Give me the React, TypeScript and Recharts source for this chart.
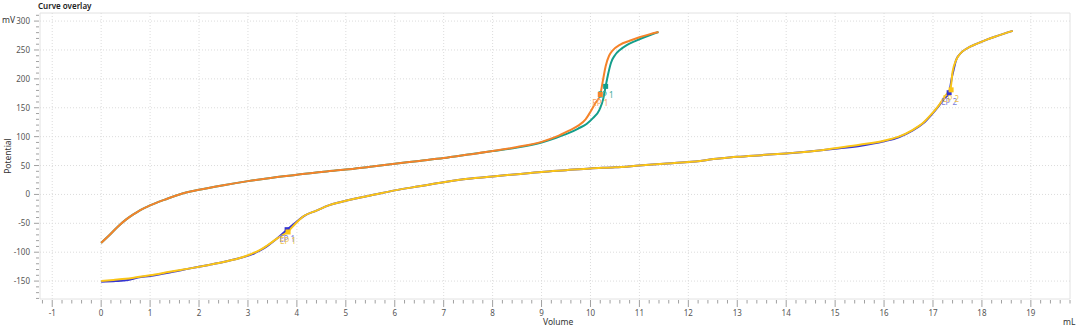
import React from "react";
import {
  ComposedChart,
  Line,
  Scatter,
  XAxis,
  YAxis,
  ReferenceLine,
  ReferenceArea,
} from "recharts";

// curve overlay: two titrations with one EP each, two with two EPs
const run1 = [
  [0, -84], [0.15, -72], [0.35, -55], [0.5, -44], [0.65, -35], [0.8, -27],
  [1.0, -19], [1.3, -9], [1.6, 0], [2.0, 8], [2.5, 16], [3.0, 23], [3.5, 29],
  [4.0, 34], [4.5, 39], [5.0, 43], [5.5, 48], [6.0, 53], [6.5, 58], [7.0, 63],
  [7.5, 69], [8.0, 75], [8.5, 81], [9.0, 90], [9.3, 98], [9.55, 106],
  [9.75, 114], [9.92, 122], [10.05, 132], [10.18, 146], [10.26, 165],
  [10.31, 187], [10.36, 208], [10.42, 228], [10.5, 241], [10.6, 250],
  [10.75, 259], [10.9, 265], [11.1, 272], [11.39, 281],
];
const run2 = [
  [0, -84], [0.15, -72], [0.35, -55], [0.5, -44], [0.65, -35], [0.8, -27],
  [1.0, -19], [1.3, -9], [1.6, 0], [2.0, 8], [2.5, 16], [3.0, 23], [3.5, 29],
  [4.0, 34], [4.5, 39], [5.0, 43], [5.5, 48], [6.0, 53], [6.5, 58], [7.0, 63],
  [7.5, 69], [8.0, 75], [8.5, 82], [9.0, 91], [9.3, 100], [9.55, 110],
  [9.75, 119], [9.9, 130], [10.0, 143], [10.1, 158], [10.2, 173],
  [10.26, 200], [10.31, 222], [10.38, 240], [10.45, 249], [10.6, 259],
  [10.8, 266], [11.0, 272], [11.2, 277], [11.39, 281],
];
const run3 = [
  [0, -151], [0.3, -150], [0.55, -148], [0.75, -144], [1.0, -141],
  [1.4, -135], [1.82, -128], [2.2, -122], [2.5, -117], [2.8, -111],
  [3.04, -105], [3.25, -97], [3.4, -89], [3.6, -76], [3.8, -61], [4.0, -47],
  [4.15, -37], [4.4, -28], [4.65, -19], [4.9, -13], [5.2, -7], [5.5, -2],
  [6.0, 7], [6.5, 14], [7.0, 21], [7.5, 27], [8.0, 31], [8.5, 35], [9.0, 39],
  [9.5, 42], [10.0, 45], [10.5, 47], [11.0, 50], [11.5, 53], [12.0, 56],
  [12.63, 62], [13.0, 65], [13.5, 68], [14.0, 71], [14.67, 76], [15.0, 79],
  [15.5, 84], [16.0, 92], [16.3, 99], [16.57, 110], [16.8, 123],
  [16.98, 139], [17.1, 151], [17.22, 165], [17.33, 176], [17.38, 200],
  [17.42, 215], [17.47, 232], [17.55, 243], [17.7, 253], [17.9, 261],
  [18.1, 268], [18.3, 274], [18.63, 283],
];
const run4 = [
  [0, -150], [0.25, -148], [0.5, -146], [0.75, -143], [1.0, -140],
  [1.4, -134], [1.82, -128], [2.2, -122], [2.5, -117], [2.8, -111],
  [3.04, -104], [3.25, -96], [3.4, -88], [3.6, -76], [3.82, -64], [4.0, -48],
  [4.15, -37], [4.4, -28], [4.65, -19], [4.9, -13], [5.2, -7], [5.5, -2],
  [6.0, 7], [6.5, 14], [7.0, 21], [7.5, 27], [8.0, 31], [8.5, 35], [9.0, 39],
  [9.5, 42], [10.0, 45], [10.5, 47], [11.0, 50], [11.5, 53], [12.0, 56],
  [12.63, 62], [13.0, 65], [13.5, 68], [14.0, 71], [14.67, 76], [15.0, 80],
  [15.5, 86], [16.0, 93], [16.3, 100], [16.57, 111], [16.8, 124],
  [16.98, 140], [17.1, 152], [17.22, 167], [17.3, 176], [17.36, 184],
  [17.4, 212], [17.47, 232], [17.55, 243], [17.7, 253], [17.9, 261],
  [18.1, 268], [18.3, 274], [18.63, 283],
];

// endpoints [volume, potential, label]
const ep1 = [[10.31, 187, "EP 1"]];
const ep2 = [[10.2, 173, "EP 1"]];
const ep3 = [[3.8, -61, "EP 1"], [17.33, 176, "EP 2"]];
const ep4 = [[3.82, -65, "EP 1"], [17.37, 181, "EP 2"]];

const xMajor = [-1, 0, 1, 2, 3, 4, 5, 6, 7, 8, 9, 10, 11, 12, 13, 14, 15, 16, 17, 18, 19];
const yMajor = [-150, -100, -50, 0, 50, 100, 150, 200, 250, 300];

const xTicks: number[] = [];
for (let i = -6; i <= 99; i++) xTicks.push(+(i * 0.2).toFixed(1));
const yTicks: number[] = [];
for (let v = -180; v <= 310; v += 10) yTicks.push(v);

const toPts = (arr: any[]) => arr.map(([x, y]) => ({ x, y }));
const toEp = (arr: any[]) => arr.map(([x, y, label]) => ({ x, y, label }));

const font = "'Noto Sans', 'Open Sans', sans-serif";

const XTick = ({ x, y, payload }: any) => {
  const v = payload.value;
  const major = Math.abs(v - Math.round(v)) < 1e-6;
  return (
    <g>
      <line x1={x} x2={x} y1={y + 1} y2={y + (major ? 8 : 4.5)} stroke="#a0a0a0" />
      {major && (
        <text x={x} y={y + 17} textAnchor="middle" fontSize={8} fill="#555" fontFamily={font}>
          {Math.round(v)}
        </text>
      )}
    </g>
  );
};

const YTick = ({ x, y, payload }: any) => {
  const v = payload.value;
  const major = v % 50 === 0;
  return (
    <g>
      <line x1={x - (major ? 6 : 4)} x2={x - 1} y1={y} y2={y} stroke="#a0a0a0" />
      {major && (
        <text x={x - 10} y={y + 3} textAnchor="end" fontSize={8} fill="#555" fontFamily={font}>
          {v}
        </text>
      )}
    </g>
  );
};

const epShape = (color: string, labelColor: string) => (props: any) => {
  const { cx, cy, payload } = props;
  return (
    <g>
      <rect x={cx - 2.5} y={cy - 2.5} width={5} height={5} fill={color} />
      <text x={cx} y={cy + 12} textAnchor="middle" fontSize={8} fill={labelColor} fontFamily={font}>
        {payload.label}
      </text>
    </g>
  );
};

const txt: React.CSSProperties = {
  position: "absolute",
  fontFamily: font,
  fontSize: 8.5,
  color: "#333",
  whiteSpace: "nowrap",
  lineHeight: 1,
};

export default function App() {
  return (
    <div style={{ position: "absolute", left: 0, top: 0, width: 1080, height: 332, background: "#fff" }}>
      <ComposedChart
        width={1080}
        height={332}
        margin={{ top: 13, right: 10, bottom: 0, left: 0 }}
      >
        <XAxis
          dataKey="x"
          type="number"
          domain={[-1.25, 19.8]}
          ticks={xTicks}
          interval={0}
          allowDataOverflow
          height={33}
          tickSize={0}
          tickMargin={0}
          tickLine={false}
          axisLine={false}
          tick={<XTick />}
        />
        <YAxis
          dataKey="y"
          type="number"
          domain={[-181, 314]}
          ticks={yTicks}
          interval={0}
          allowDataOverflow
          width={40}
          tickSize={0}
          tickMargin={0}
          tickLine={false}
          axisLine={false}
          tick={<YTick />}
        />
        <ReferenceArea x1={-1.25} x2={19.8} y1={-181} y2={314} fill="none" stroke="#e2e2e2" />
        {xMajor.map((v) => (
          <ReferenceLine key={"gx" + v} x={v} stroke="#dcdcdc" strokeDasharray="1 2" />
        ))}
        {yMajor.map((v) => (
          <ReferenceLine key={"gy" + v} y={v} stroke="#dcdcdc" strokeDasharray="1 2" />
        ))}
        <Line data={toPts(run3)} dataKey="y" type="monotone" stroke="#3434d2" strokeWidth={2} dot={false} isAnimationActive={false} />
        <Line data={toPts(run4)} dataKey="y" type="monotone" stroke="#fbc516" strokeWidth={2} dot={false} isAnimationActive={false} />
        <Line data={toPts(run1)} dataKey="y" type="monotone" stroke="#149e8b" strokeWidth={2} dot={false} isAnimationActive={false} />
        <Line data={toPts(run2)} dataKey="y" type="monotone" stroke="#f5832a" strokeWidth={2} dot={false} isAnimationActive={false} />
        <Scatter data={toEp(ep3)} dataKey="y" shape={epShape("#3434d2", "#7a80dc")} isAnimationActive={false} />
        <Scatter data={toEp(ep4)} dataKey="y" shape={epShape("#fbc516", "#f0c24a")} isAnimationActive={false} />
        <Scatter data={toEp(ep1)} dataKey="y" shape={epShape("#149e8b", "#3aaa9a")} isAnimationActive={false} />
        <Scatter data={toEp(ep2)} dataKey="y" shape={epShape("#f5832a", "#f5a25e")} isAnimationActive={false} />
      </ComposedChart>
      <div style={{ ...txt, left: 38, top: 2, fontWeight: 600, fontSize: 8, color: "#222" }}>Curve overlay</div>
      <div style={{ ...txt, left: 2, top: 16 }}>mV</div>
      <div style={{ ...txt, left: 8, top: 156, transform: "translate(-50%, -50%) rotate(-90deg)" }}>Potential</div>
      <div style={{ ...txt, left: 543, top: 318 }}>Volume</div>
      <div style={{ ...txt, left: 1063, top: 318 }}>mL</div>
    </div>
  );
}
